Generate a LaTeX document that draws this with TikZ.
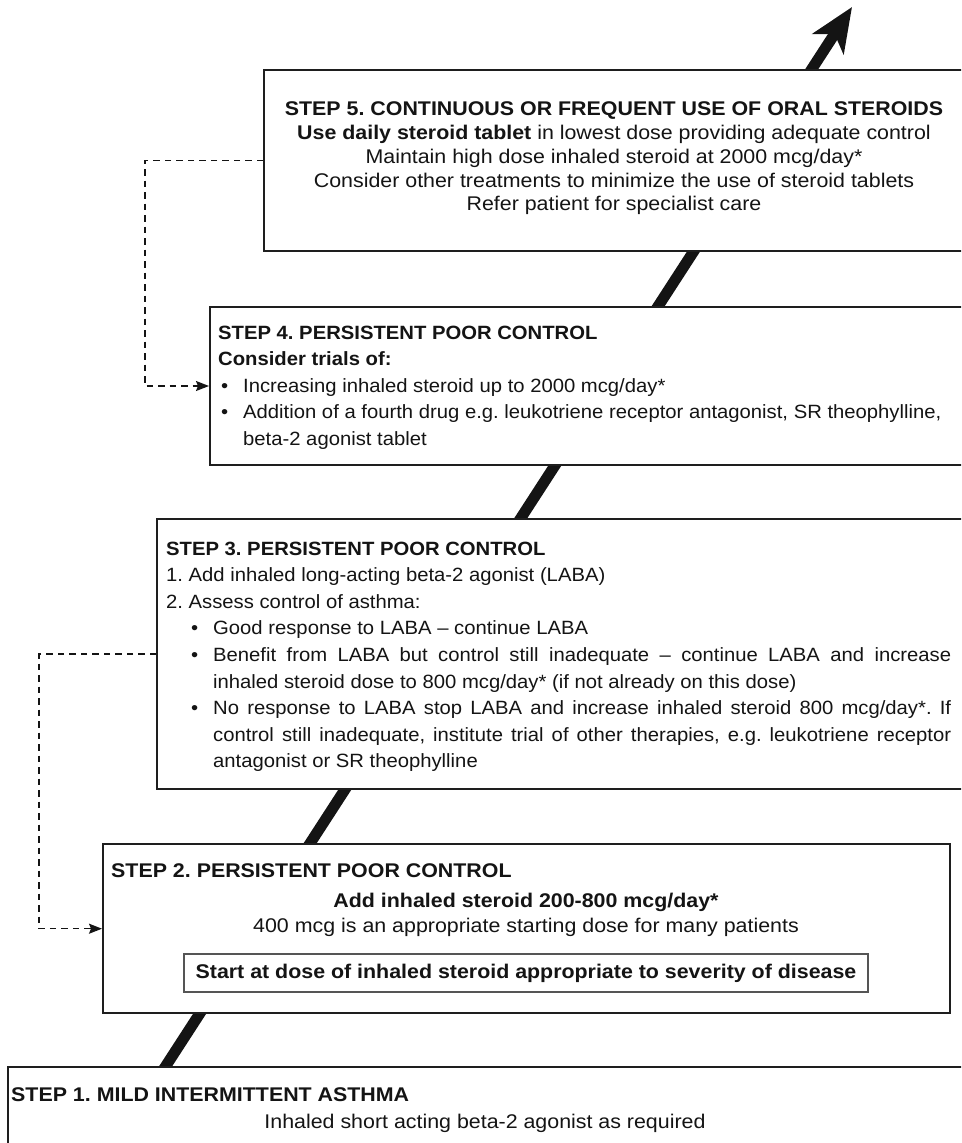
\documentclass[tikz,border=0pt]{standalone}
\usepackage{fontspec}
\setmainfont{Liberation Sans}[FakeStretch=1.08]
\newfontfamily\listfont{Liberation Sans}[FakeStretch=1.055]
\usetikzlibrary{arrows.meta}
\definecolor{ink}{HTML}{141414}
\definecolor{frame}{HTML}{1E1E1E}
\definecolor{innerframe}{HTML}{555555}
\frenchspacing
\begin{document}
\begin{tikzpicture}[x=1pt,y=-1pt,
  txt/.style={inner sep=0pt, anchor=base west, text=ink},
  ctxt/.style={inner sep=0pt, anchor=base, text=ink},
  listtxt/.style={txt, font=\listfont\fontsize{19.2}{26.6}\selectfont\frenchspacing},
  stepbox/.style={draw=frame, line width=2pt, fill=white, inner sep=0pt, anchor=north west},
  innerbox/.style={draw=innerframe, line width=1.5pt, fill=white, inner sep=0pt, text=ink},
  ladder/.style={draw=ink, line width=11pt, -{Stealth[length=44pt, width=37pt, inset=12pt]}},
  dashconn/.style={draw=ink, line width=1.5pt, dash pattern=on 6.5pt off 5pt,
    -{Stealth[length=13pt, width=10pt, inset=2pt]}},
  font=\fontsize{19.8}{26.6}\selectfont\frenchspacing]
\useasboundingbox (0,0) rectangle (961,1143);
\clip (0,0) rectangle (961,1143);

% the rising staircase line, drawn first so the boxes sit on top of it
\coordinate (base) at (158,1078);
\coordinate (tip) at (852,7);
\draw[ladder] (base) -- (tip);

% step boxes
\node[stepbox, minimum width=712pt, minimum height=181pt] (s5) at (263,69) {};
\node[stepbox, minimum width=766pt, minimum height=158pt] (s4) at (209,306) {};
\node[stepbox, minimum width=819pt, minimum height=270pt] (s3) at (156,518) {};
\node[stepbox, line width=2.4pt, minimum width=847pt, minimum height=169pt] (s2) at (102,843) {};
\node[stepbox, minimum width=968pt, minimum height=100pt] (s1) at (7,1066) {};

% step 5
\node[ctxt] (t5a) at (614,115) {\bfseries STEP 5. CONTINUOUS OR FREQUENT USE OF ORAL STEROIDS};
\node[ctxt] (t5b) at (614,139.5) {\textbf{Use daily steroid tablet} in lowest dose providing adequate control};
\node[ctxt] (t5c) at (614,163.5) {Maintain high dose inhaled steroid at 2000 mcg/day*};
\node[ctxt] (t5d) at (614,187) {Consider other treatments to minimize the use of steroid tablets};
\node[ctxt] (t5e) at (614,210.5) {Refer patient for specialist care};

% step 4
\node[listtxt] (t4a) at (218,339) {\bfseries STEP 4. PERSISTENT POOR CONTROL};
\node[listtxt] (t4b) at (218,365.5) {\bfseries Consider trials of:};
\node[listtxt] (b4a) at (221,392) {\textbullet};
\node[listtxt] (t4c) at (243,392) {Increasing inhaled steroid up to 2000 mcg/day*};
\node[listtxt] (b4b) at (221,418.5) {\textbullet};
\node[listtxt] (t4d) at (243,418.5) {Addition of a fourth drug e.g. leukotriene receptor antagonist, SR theophylline,};
\node[listtxt] (t4e) at (243,445) {beta-2 agonist tablet};

% step 3
\node[listtxt] (t3a) at (166,555) {\bfseries STEP 3. PERSISTENT POOR CONTROL};
\node[listtxt] (t3b) at (166,581.6) {1. Add inhaled long-acting beta-2 agonist (LABA)};
\node[listtxt] (t3c) at (166,608.2) {2. Assess control of asthma:};
\node[listtxt] (b3a) at (191,634.8) {\textbullet};
\node[listtxt] (t3d) at (213,634.8) {Good response to LABA – continue LABA};
\node[listtxt] (b3b) at (191,661.4) {\textbullet};
\node[listtxt] (t3e) at (213,661.4) {\makebox[738pt][s]{Benefit from LABA but control still inadequate – continue LABA and increase}};
\node[listtxt] (t3f) at (213,688) {inhaled steroid dose to 800 mcg/day* (if not already on this dose)};
\node[listtxt] (b3c) at (191,714.6) {\textbullet};
\node[listtxt] (t3g) at (213,714.6) {\makebox[738pt][s]{No response to LABA stop LABA and increase inhaled steroid 800 mcg/day*. If}};
\node[listtxt] (t3h) at (213,741.2) {\makebox[738pt][s]{control still inadequate, institute trial of other therapies, e.g. leukotriene receptor}};
\node[listtxt] (t3i) at (213,767.8) {antagonist or SR theophylline};

% step 2
\node[txt] (t2a) at (111,877) {\bfseries STEP 2. PERSISTENT POOR CONTROL};
\node[ctxt] (t2b) at (526,907) {\bfseries Add inhaled steroid 200-800 mcg/day*};
\node[ctxt] (t2c) at (526,932) {400 mcg is an appropriate starting dose for many patients};
\node[innerbox, minimum width=684pt, minimum height=38pt] (s2b) at (526,973)
  {\bfseries Start at dose of inhaled steroid appropriate to severity of disease};

% step 1
\node[txt] (t1a) at (11,1101) {\bfseries STEP 1. MILD INTERMITTENT ASTHMA};
\node[ctxt] (t1b) at (485,1128) {Inhaled short acting beta-2 agonist as required};

% step-down paths
\draw[dashconn] (s5.west) -- ++(-118,0) |- (s4.west);
\draw[dashconn] (s3.west) -- ++(-117,0) |- (s2.west);
\end{tikzpicture}
\end{document}
